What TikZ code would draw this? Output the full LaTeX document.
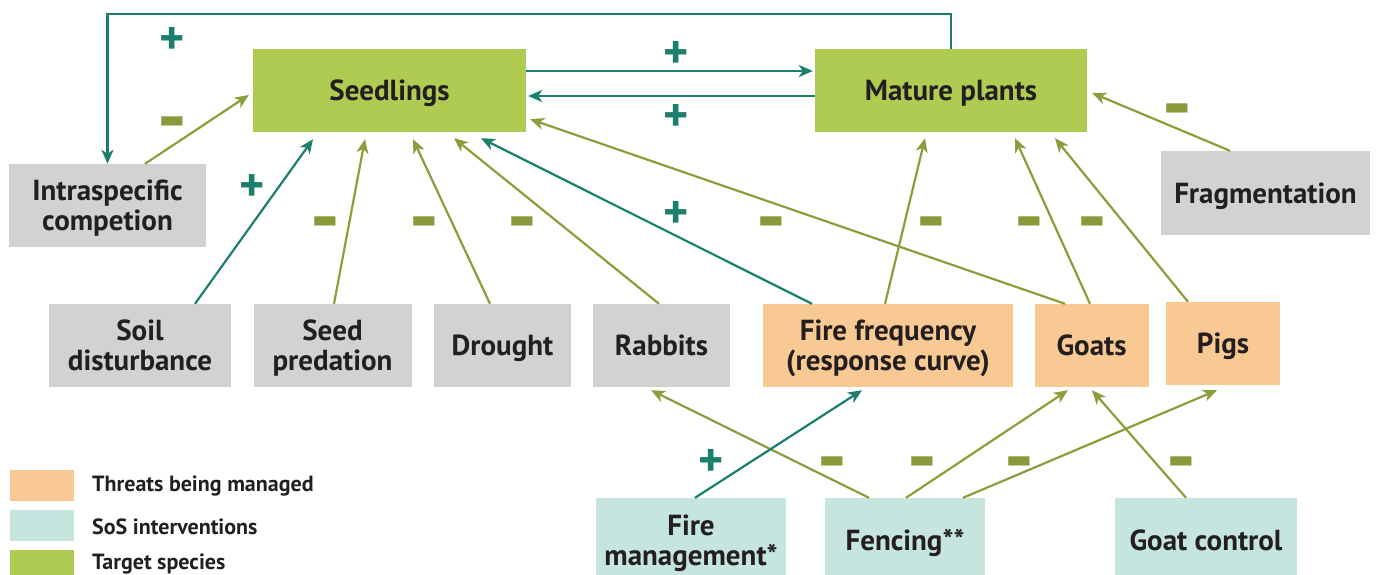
\documentclass[tikz,border=0pt]{standalone}
\usepackage{fontspec}
\setmainfont{PT Sans}
\usetikzlibrary{positioning, arrows.meta, calc}
\definecolor{posteal}{RGB}{27,127,110}
\definecolor{negolive}{RGB}{138,159,59}
\definecolor{signolive}{RGB}{137,154,60}
\definecolor{targetgreen}{RGB}{176,203,82}
\definecolor{factorgrey}{RGB}{209,210,212}
\definecolor{threatorange}{RGB}{248,201,146}
\definecolor{sosteal}{RGB}{197,229,222}
\definecolor{inkdark}{RGB}{35,31,32}
\newcommand{\minussign}{\scalebox{1.2}[2]{–}}

\begin{document}
\begin{tikzpicture}[x=1pt, y=-1pt,
    box/.style={inner sep=0pt, align=center, text=inkdark, text depth=0pt,
      font=\bfseries\fontsize{29}{30}\selectfont, minimum height=83pt},
    target/.style={box, fill=targetgreen},
    factor/.style={box, fill=factorgrey},
    threat/.style={box, fill=threatorange},
    sos/.style={box, fill=sosteal},
    swatch/.style={minimum width=64pt, minimum height=31pt, inner sep=0pt},
    legendtext/.style={anchor=west, inner sep=0pt, text=inkdark,
      font=\bfseries\fontsize{22}{24}\selectfont},
    plus/.style={text=posteal, font=\bfseries\fontsize{48}{48}\selectfont, inner sep=0pt, yshift=-3pt},
    minus/.style={text=signolive, font=\bfseries\fontsize{40}{40}\selectfont, inner sep=0pt, yshift=-11pt},
    posarrow/.style={draw=posteal, line width=2.2pt, -{Stealth[length=14pt, width=12pt, inset=4pt]}},
    negarrow/.style={draw=negolive, line width=2.2pt, -{Stealth[length=14pt, width=12pt, inset=4pt]}}]
  \path[use as bounding box, clip] (0,0) rectangle (1378,575);

  \node[target, minimum width=273pt] (seed) at (389.5,90.5) {Seedlings};
  \node[target, minimum width=272pt] (mature) at (951,90.5) {Mature plants};
  \node[factor, minimum width=197pt] (intra) at (107.5,205.5) {Intraspecific\\competion};
  \node[factor, minimum width=209pt, minimum height=84pt] (frag) at (1265.5,193) {Fragmentation};
  \node[factor, minimum width=182pt] (soil) at (140,345.5) {Soil\\disturbance};
  \node[factor, minimum width=158pt] (pred) at (332.5,345.5) {Seed\\predation};
  \node[factor, minimum width=137pt] (drought) at (502.5,345.5) {Drought};
  \node[factor, minimum width=137pt] (rabbits) at (661.5,345.5) {Rabbits};
  \node[threat, minimum width=250pt] (fire) at (888,345.5) {Fire frequency\\(response curve)};
  \node[threat, minimum width=114pt] (goats) at (1091.5,345.5) {Goats};
  \node[threat, minimum width=114pt] (pigs) at (1223,343.5) {Pigs};
  \node[sos, minimum width=190pt, minimum height=84pt] (firem) at (691,540) {Fire\\management*};
  \node[sos, minimum width=160pt, minimum height=84pt] (fence) at (905,540) {Fencing**};
  \node[sos, minimum width=182pt, minimum height=84pt] (goatc) at (1206,540) {Goat control};

  \node[swatch, fill=threatorange] (sw1) at (42,485) {};
  \node[swatch, fill=sosteal, below=9pt of sw1] (sw2) {};
  \node[swatch, fill=targetgreen, below=9pt of sw2] (sw3) {};
  \node[legendtext] (lg1) at (92,486) {Threats being managed};
  \node[legendtext] (lg2) at (92,527) {SoS interventions};
  \node[legendtext] (lg3) at (92,564) {Target species};

  \draw[posarrow] (mature.north) -- ++(0,-35) -| (intra.north);
  \draw[posarrow] ($(seed.east)+(0,-19.5)$) -- ($(mature.west)+(-2,-19.5)$);
  \draw[posarrow] ($(mature.west)+(0,5.5)$) -- ($(seed.east)+(2,5.5)$);
  \draw[negarrow] ($(intra.north)+(37.5,0)$) -- ($(seed.west)+(-4,4.5)$);
  \draw[posarrow] ($(soil.north)+(55,0)$) -- ($(seed.south)+(-76.5,7)$);
  \draw[negarrow] ($(pred.north)+(1.5,0)$) -- ($(seed.south)+(-24.5,7)$);
  \draw[negarrow] ($(drought.north)+(-12.5,0)$) -- ($(seed.south)+(23.5,7)$);
  \draw[negarrow] ($(rabbits.north)+(-2.5,0)$) -- ($(seed.south)+(64.5,6)$);
  \draw[posarrow] ($(fire.north)+(-76,0)$) -- ($(seed.south)+(91.5,6)$);
  \draw[negarrow] ($(goats.north)+(-26.5,0)$) -- ($(seed.south east)+(4,-13)$);
  \draw[negarrow] ($(fire.north)+(-3,0)$) -- ($(mature.south)+(-26,6)$);
  \draw[negarrow] ($(goats.north)+(-1.5,0)$) -- ($(mature.south)+(64,6)$);
  \draw[negarrow] ($(pigs.north)+(-35,0)$) -- ($(mature.south)+(104,6)$);
  \draw[negarrow] ($(frag.north)+(-35.5,0)$) -- ($(mature.east)+(5,2.5)$);
  \draw[negarrow] ($(fence.north)+(-36,0)$) -- ($(rabbits.south)+(-10.5,3)$);
  \draw[posarrow] ($(firem.north)+(4,0)$) -- ($(fire.south)+(-26,3)$);
  \draw[negarrow] ($(fence.north)+(1,0)$) -- ($(goats.south)+(-23.5,3)$);
  \draw[negarrow] ($(fence.north)+(58,0)$) -- ($(pigs.south)+(-6,5)$);
  \draw[negarrow] ($(goatc.north)+(-20,0)$) -- ($(goats.south)+(0.5,3)$);

  \node[plus] (p1) at (172,38) {+};
  \node[minus] (m1) at (172,120) {\minussign};
  \node[plus] (p2) at (676,52) {+};
  \node[plus] (p3) at (676,115) {+};
  \node[minus] (m2) at (1177,107) {\minussign};
  \node[plus] (p4) at (252,185) {+};
  \node[minus] (m3) at (325,220) {\minussign};
  \node[minus] (m4) at (424,220) {\minussign};
  \node[minus] (m5) at (522,220) {\minussign};
  \node[plus] (p5) at (676,212) {+};
  \node[minus] (m6) at (771,220) {\minussign};
  \node[minus] (m7) at (931,220) {\minussign};
  \node[minus] (m8) at (1029,220) {\minussign};
  \node[minus] (m9) at (1092,220) {\minussign};
  \node[plus] (p6) at (711,460) {+};
  \node[minus] (m10) at (832,460) {\minussign};
  \node[minus] (m11) at (922,460) {\minussign};
  \node[minus] (m12) at (1019,460) {\minussign};
  \node[minus] (m13) at (1181,460) {\minussign};
\end{tikzpicture}
\end{document}
